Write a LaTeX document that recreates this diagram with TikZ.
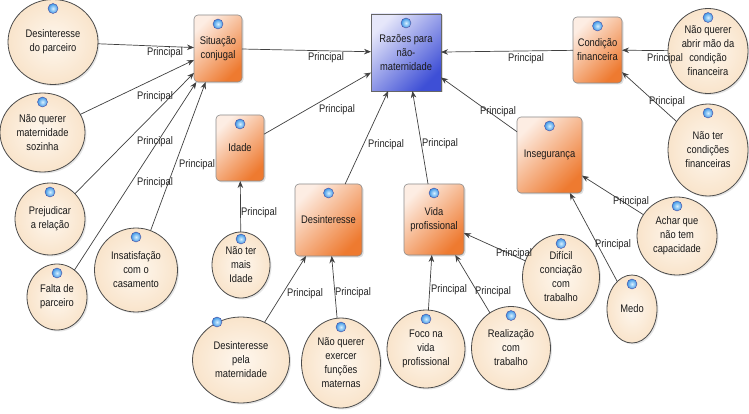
\documentclass[tikz,border=0pt]{standalone}
\usepackage{fontspec}
\setmainfont{Liberation Sans}[FakeStretch=0.85]
\usetikzlibrary{arrows.meta,shadows,shapes.geometric}
\definecolor{ellIn}{RGB}{254,247,238}
\definecolor{ellOut}{RGB}{249,228,203}
\definecolor{orT}{RGB}{253,237,227}
\definecolor{orM}{RGB}{249,196,162}
\definecolor{orB}{RGB}{238,122,48}
\definecolor{blT}{RGB}{230,231,250}
\definecolor{blM}{RGB}{168,174,236}
\definecolor{blB}{RGB}{62,79,214}
\definecolor{ballIn}{RGB}{215,240,255}
\definecolor{ballOut}{RGB}{60,150,230}
\begin{document}
\begin{tikzpicture}[x=1pt,y=-1pt,
  font=\fontsize{11}{14}\selectfont,
  ell/.style={ellipse, draw=black!70, line width=0.8pt, inner color=ellIn, outer color=ellOut,
    align=center, inner sep=0pt, outer sep=0pt, text=black!90,
    drop shadow={opacity=0.2,shadow xshift=1.5pt,shadow yshift=-1.5pt}},
  orbox/.style={rectangle, rounded corners=4pt, draw=black!45, line width=0.6pt,
    top color=orT, middle color=orM, bottom color=orB, shading angle=45,
    align=center, inner sep=0pt, outer sep=0pt, text=black!90,
    drop shadow={opacity=0.25,shadow xshift=1.5pt,shadow yshift=-1.5pt}},
  blbox/.style={rectangle, draw=black!60, line width=0.6pt,
    top color=blT, middle color=blM, bottom color=blB, shading angle=45,
    align=center, inner sep=0pt, outer sep=0pt, text=black!90,
    drop shadow={opacity=0.25,shadow xshift=1.5pt,shadow yshift=-1.5pt}},
  knob/.style={circle, inner sep=0pt, minimum size=10pt, inner color=ballIn, outer color=ballOut,
    draw=blue!45!black!70, line width=0.4pt},
  lbl/.style={inner sep=0pt, text=black!85},
  arr/.style={draw=black!75, line width=0.7pt, -{Stealth[length=7pt,width=5.5pt]}}
]
\fill[white] (0,0) rectangle (749,414);
\useasboundingbox (0,0) rectangle (749,414);

% boxes
\node[blbox, minimum width=70pt, minimum height=77pt] (rz) at (406,52.5) {Razões para\\não-\\maternidade};
\node[orbox, minimum width=48pt, minimum height=67pt] (sc) at (218,48.5) {Situação\\conjugal};
\node[orbox, minimum width=49pt, minimum height=66pt] (cf) at (597.5,50) {Condição\\financeira};
\node[orbox, minimum width=48pt, minimum height=66pt] (id) at (240,148) {Idade};
\node[orbox, minimum width=67pt, minimum height=72pt] (de) at (328.5,220) {Desinteresse};
\node[orbox, minimum width=60pt, minimum height=71pt] (vp) at (434,219.5) {Vida\\profissional};
\node[orbox, minimum width=65pt, minimum height=76pt] (ins) at (549.5,155) {Insegurança};

% ellipses
\node[ell, minimum width=90pt, minimum height=85pt] (dp) at (53,42) {Desinteresse\\do parceiro};
\node[ell, minimum width=85pt, minimum height=79pt] (nqms) at (42.5,132.5) {Não querer\\maternidade\\sozinha};
\node[ell, minimum width=70pt, minimum height=72pt] (pr) at (50,219) {Prejudicar\\a relação};
\node[ell, minimum width=60pt, minimum height=66pt] (fp) at (57,297) {Falta de\\parceiro};
\node[ell, minimum width=83pt, minimum height=84pt] (ic) at (136,270) {Insatisfação\\com o\\casamento};
\node[ell, minimum width=58pt, minimum height=66pt] (nmi) at (241,265) {Não ter\\mais\\Idade};
\node[ell, minimum width=97pt, minimum height=86pt] (dpm) at (241,360) {Desinteresse\\pela\\maternidade};
\node[ell, minimum width=79pt, minimum height=90pt] (nqe) at (341,363) {Não querer\\exercer\\funções\\maternas};
\node[ell, minimum width=78pt, minimum height=78pt] (foco) at (426,349) {Foco na\\vida\\profissional};
\node[ell, minimum width=79pt, minimum height=83pt] (real) at (511,348) {Realização\\com\\trabalho};
\node[ell, minimum width=77pt, minimum height=85pt] (dif) at (561,277) {Difícil\\conciação\\com\\trabalho};
\node[ell, minimum width=50pt, minimum height=68pt] (medo) at (632,309) {Medo};
\node[ell, minimum width=80pt, minimum height=78pt] (achar) at (677,236) {Achar que\\não tem\\capacidade};
\node[ell, minimum width=80pt, minimum height=85pt] (nqa) at (708,51) {Não querer\\abrir mão da\\condição\\financeira};
\node[ell, minimum width=80pt, minimum height=92pt] (ntc) at (708,150) {Não ter\\condições\\financeiras};

% connectors
\draw[arr] (dp) -- (sc);
\draw[arr] (nqms) -- (sc);
\draw[arr] (pr) -- (sc);
\draw[arr] (fp) -- (sc);
\draw[arr] (ic) -- (sc);
\draw[arr] (sc) -- (rz);
\draw[arr] (id) -- (rz);
\draw[arr] (de) -- (rz);
\draw[arr] (vp) -- (rz);
\draw[arr] (ins) -- (rz);
\draw[arr] (cf) -- (rz);
\draw[arr] (nqa) -- (cf);
\draw[arr] (ntc) -- (cf);
\draw[arr] (nmi) -- (id);
\draw[arr] (dpm) -- (de);
\draw[arr] (nqe) -- (de);
\draw[arr] (foco) -- (vp);
\draw[arr] (real) -- (vp);
\draw[arr] (dif) -- (vp);
\draw[arr] (medo) -- (ins);
\draw[arr] (achar) -- (ins);

% labels
\foreach \p in {(165,53),(155,97),(155,142),(155,183),(197,165),(326,58),(337,110),(386,145),(440,144),(498,112),(526,59),(665,59),(667,102),(259,213),(305,294),(353,293),(449,290),(493,292),(514,254),(613,245),(631,202)}
  \node[lbl] at \p {Principal};

% knobs
\foreach \n in {rz,sc,cf,id,de,vp,ins}
  \node[knob] at ([yshift=-9pt]\n.north) {};
\foreach \n in {dp,nqms,pr,fp,ic,nqe,foco,real,dif,medo,achar,nqa,ntc}
  \node[knob] at ([yshift=-9pt]\n.north) {};
\node[knob] at ([yshift=-7pt]nmi.north) {};
\node[knob] at (217,322) {};
\end{tikzpicture}
\end{document}
